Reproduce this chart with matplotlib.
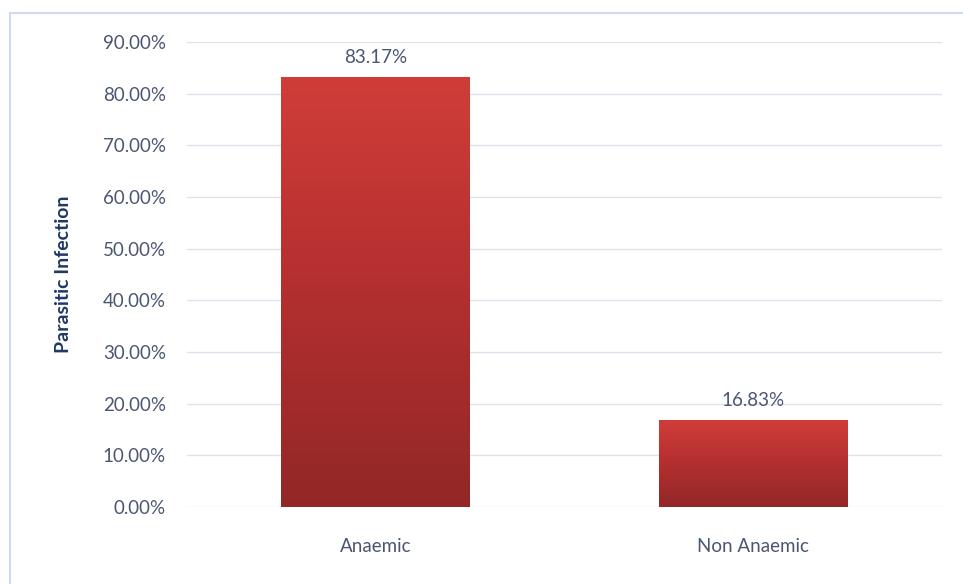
import matplotlib
matplotlib.use("Agg")
import matplotlib.pyplot as plt
import numpy as np
from matplotlib.patches import Rectangle
from matplotlib.colors import LinearSegmentedColormap

categories = ["Anaemic", "Non Anaemic"]
values = [83.17, 16.83]
yticks = [0, 10, 20, 30, 40, 50, 60, 70, 80, 90]
ylabel = "Parasitic Infection"

plt.rcParams['font.family'] = ['Lato', 'DejaVu Sans']

fig = plt.figure(figsize=(9.63, 5.84), dpi=100)
ax = fig.add_axes([0.194, 0.1318, 0.784, 0.7962])

# figure border (right/bottom edges fall outside the image)
fig.patches.append(Rectangle((0.010, -0.05), 1.1, 1.028, transform=fig.transFigure,
                             fill=False, edgecolor="#cfdcee", linewidth=1.5))

x = np.arange(len(categories))
bars = ax.bar(x, values, width=0.5, color="#b83232", zorder=2)

cmap = LinearSegmentedColormap.from_list("g", ["#932727", "#b32f2f", "#d03d39"])
grad = np.linspace(0, 1, 256).reshape(-1, 1)
for b in bars:
    x0, w, h = b.get_x(), b.get_width(), b.get_height()
    im = ax.imshow(grad, extent=[x0, x0 + w, 0, h], origin="lower", cmap=cmap,
                   aspect="auto", zorder=3)
    im.set_clip_path(b)
    ax.annotate(f"{b.get_height():.2f}%", (x0 + w / 2, h), xytext=(0, 8),
                textcoords="offset points", ha="center", va="bottom",
                fontsize=13.5, color="#4a5673")

ax.set_xlim(-0.5, 1.5)
ax.set_ylim(0, 90)
ax.set_yticks(yticks)
ax.set_yticklabels([f"{t:.2f}%" for t in yticks])
ax.set_xticks(x)
ax.set_xticklabels(categories)
ax.tick_params(axis="y", length=0, pad=15, labelsize=13.5, labelcolor="#4a5673")
ax.tick_params(axis="x", length=0, pad=22, labelsize=13.5, labelcolor="#4a5673")
ax.grid(axis="y", color="#dce3ec", linewidth=1, zorder=0)
ax.set_axisbelow(True)
for s in ax.spines.values():
    s.set_visible(False)
ax.set_ylabel(ylabel, fontsize=14, fontweight="bold", color="#1f3864", labelpad=22)

fig.savefig("out.png", dpi=100)
